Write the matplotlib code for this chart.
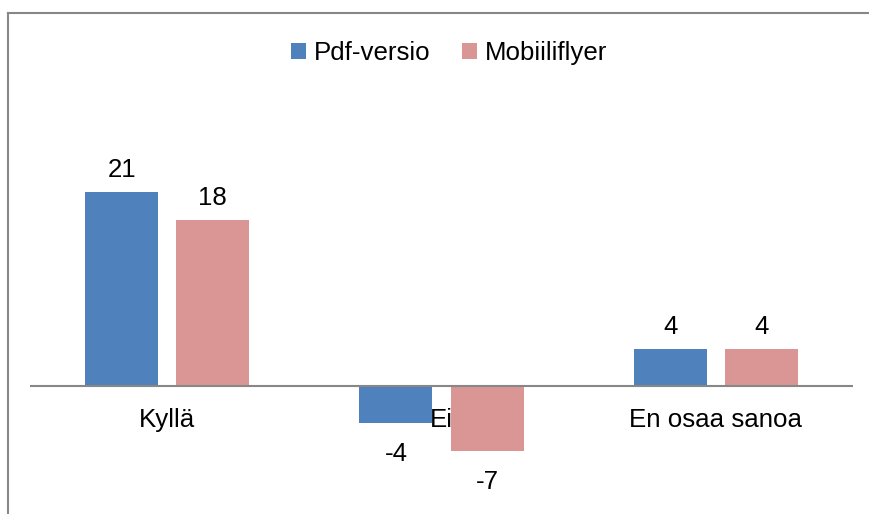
import numpy as np
import matplotlib.pyplot as plt
from matplotlib.lines import Line2D

categories = ['Kyllä', 'Ei', 'En osaa sanoa']
series_names = ['Pdf-versio', 'Mobiiliflyer']
pdf_values = [21, -4, 4]
mobile_values = [18, -7, 4]

blue = '#4F81BD'
pink = '#D99694'
grey = '#878787'

plt.rcParams['font.family'] = ['Liberation Sans', 'DejaVu Sans']
fs = 18.6

W, H = 870, 514
fig = plt.figure(figsize=(W / 100, H / 100), dpi=100)
ax = fig.add_axes([30 / W, 1 - 490 / H, (853 - 30) / W, (490 - 100) / H])

x = np.arange(len(categories))
width = 0.266
off = 0.166
b1 = ax.bar(x - off, pdf_values, width, color=blue, label=series_names[0], zorder=3)
b2 = ax.bar(x + off, mobile_values, width, color=pink, label=series_names[1], zorder=3)

for bars, vals in ((b1, pdf_values), (b2, mobile_values)):
    for rect, v in zip(bars, vals):
        cx = rect.get_x() + rect.get_width() / 2
        if v >= 0:
            ax.annotate(str(v), (cx, v), xytext=(0, 7), textcoords='offset points',
                        ha='center', va='bottom', fontsize=fs)
        else:
            ax.annotate(str(v), (cx, v), xytext=(0, -14), textcoords='offset points',
                        ha='center', va='top', fontsize=fs)

# category labels just under the zero line
for xi, cat in zip(x, categories):
    ax.annotate(cat, (xi, 0), xytext=(0, -16), textcoords='offset points',
                ha='center', va='top', fontsize=fs, zorder=2)

ax.axhline(0, color=grey, linewidth=1.5, zorder=4)
ax.set_xlim(-0.5, 2.5)
ax.set_ylim(-11.25, 30.95)
ax.axis('off')

fig.legend(loc='center', bbox_to_anchor=(449 / W, 1 - 53 / H), ncol=2, frameon=False,
           fontsize=fs, handlelength=0.6, handleheight=0.6, handletextpad=0.3,
           columnspacing=1.2)

# outer chart border (top and left visible)
fig.add_artist(Line2D([8 / W, 8 / W], [0, 1 - 13 / H], color=grey, linewidth=1.5,
                      transform=fig.transFigure))
fig.add_artist(Line2D([8 / W, 1], [1 - 13 / H, 1 - 13 / H], color=grey, linewidth=1.5,
                      transform=fig.transFigure))

fig.savefig('out.png', dpi=100)
